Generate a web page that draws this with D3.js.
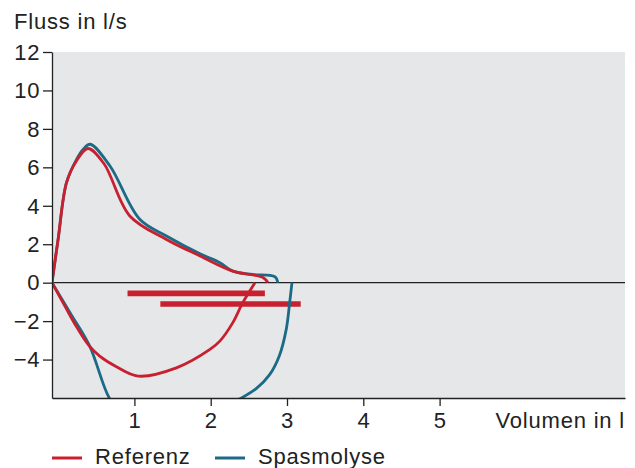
<!DOCTYPE html>
<html>
  <head>
    <meta charset="UTF-8">
    <style>
      body { margin: 0; background: #fff; }
      text { font-family: "Liberation Sans", Arial, sans-serif; }
    </style>
  </head>
  <body>
    <svg></svg>
    <script src="https://d3js.org/d3.v7.min.js"></script>
    <script>

/* DATA (volume in l, flow in l/s) */
var referenzExsp = [[-0.08,0],[0.0,2.25],[0.11,5.2],[0.24,6.33],[0.39,6.98],[0.6,6.2],[0.94,3.47],[1.42,2.25],[1.86,1.39],[2.29,0.6],[2.69,0.26],[2.75,0]];
var referenzInsp = [[-0.08,0],[0.1,-1.3],[0.25,-2.35],[0.4,-3.25],[0.545,-3.82],[0.764,-4.37],[1.05,-4.86],[1.55,-4.43],[1.99,-3.47],[2.12,-3.04],[2.29,-2.08],[2.42,-1.04],[2.58,0]];
var spasmoExsp = [[-0.08,0],[0.0,2.25],[0.11,5.2],[0.24,6.4],[0.33,6.94],[0.42,7.2],[0.68,6.07],[1.07,3.3],[1.42,2.43],[1.86,1.5],[2.12,1.04],[2.29,0.6],[2.55,0.43],[2.84,0.31],[2.88,0]];
var spasmoInsp = [[-0.08,0],[0.17,-1.65],[0.414,-3.3],[0.667,-5.97],[0.85,-6.9],[1.2,-7.45],[1.7,-7.1],[2.15,-6.45],[2.415,-5.97],[2.6,-5.5],[2.77,-4.8],[2.9,-3.8],[2.99,-2.43],[3.035,-1.04],[3.065,0]];
// horizontal bars: [start, end, flow]
var bars = [[0.91,2.71,-0.56],[1.34,3.18,-1.11]];
var yTicks = [-4,-2,0,2,4,6,8,10,12];
var xTicks = [1,2,3,4,5];
var legend = [["Referenz","#c8202f"],["Spasmolyse","#1b6b87"]];

var W = 635, H = 468;
var FONT = "22px";
var svg = d3.select("svg").attr("width", W).attr("height", H);

var x = d3.scaleLinear().domain([-0.08, 7.43]).range([52, 625]);
var y = d3.scaleLinear().domain([-6, 12]).range([398, 52]);

// background
svg.append("rect")
  .attr("x", x(-0.08)).attr("y", y(12))
  .attr("width", x(7.43) - x(-0.08)).attr("height", y(-6) - y(12))
  .attr("fill", "#e6e7e9");

svg.append("clipPath").attr("id", "clip")
  .append("rect")
  .attr("x", x(-0.08)).attr("y", y(12))
  .attr("width", x(7.43) - x(-0.08)).attr("height", y(-6) - y(12));

// zero line
svg.append("line")
  .attr("x1", x(-0.08)).attr("x2", x(7.43))
  .attr("y1", y(0)).attr("y2", y(0))
  .attr("stroke", "#222").attr("stroke-width", 1.3);

var plot = svg.append("g").attr("clip-path", "url(#clip)");

var line = d3.line()
  .x(function(d){ return x(d[0]); })
  .y(function(d){ return y(d[1]); })
  .curve(d3.curveCatmullRom.alpha(0.5));

// bars
plot.selectAll(".bar").data(bars).enter().append("line")
  .attr("x1", function(d){ return x(d[0]); })
  .attr("x2", function(d){ return x(d[1]); })
  .attr("y1", function(d){ return y(d[2]); })
  .attr("y2", function(d){ return y(d[2]); })
  .attr("stroke", legend[0][1]).attr("stroke-width", 5.7);

[[spasmoInsp, 1],[spasmoExsp, 1],[referenzInsp, 0],[referenzExsp, 0]].forEach(function(s){
  plot.append("path")
    .attr("d", line(s[0]))
    .attr("fill", "none")
    .attr("stroke", legend[s[1]][1])
    .attr("stroke-width", 2.8)
    .attr("stroke-linejoin", "round");
});

// axes
var yAxis = svg.append("g")
  .attr("transform", "translate(" + x(-0.08) + ",0)")
  .call(d3.axisLeft(y).tickValues(yTicks).tickSize(9).tickSizeOuter(0).tickPadding(3));
var xAxis = svg.append("g")
  .attr("transform", "translate(0," + y(-6) + ")")
  .call(d3.axisBottom(x).tickValues(xTicks).tickSize(8).tickSizeOuter(0).tickPadding(6));

[yAxis, xAxis].forEach(function(a){
  a.selectAll("path, line").attr("stroke", "#222").attr("stroke-width", 1.3);
  a.selectAll("text").attr("fill", "#222").style("font-size", FONT)
    .style("letter-spacing", "0.6px")
    .style("font-family", "'Liberation Sans', Arial, sans-serif");
});
yAxis.selectAll("text").attr("dy", "0.33em");

function label(px, py, txt, anchor){
  svg.append("text").attr("x", px).attr("y", py)
    .attr("text-anchor", anchor || "start")
    .attr("fill", "#222").style("font-size", FONT)
    .style("letter-spacing", "0.8px")
    .text(txt);
}

// titles
label(14, 29, "Fluss in l/s");
label(625, 428, "Volumen in l", "end");

// legend
var lx = [52, 215];
legend.forEach(function(d, i){
  svg.append("line")
    .attr("x1", lx[i]).attr("x2", lx[i] + 30)
    .attr("y1", 458).attr("y2", 458)
    .attr("stroke", d[1]).attr("stroke-width", 3);
  label(lx[i] + 43, 464, d[0]);
});

    </script>
  </body>
</html>
